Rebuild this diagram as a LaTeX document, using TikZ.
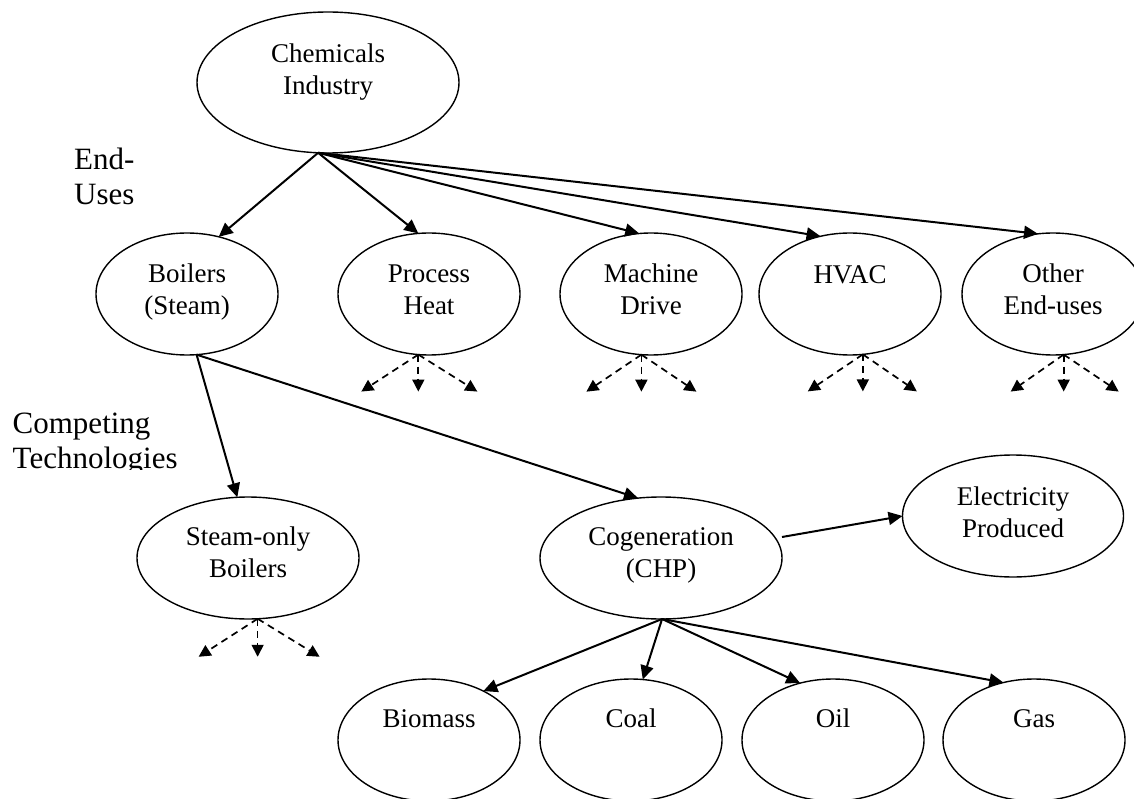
\documentclass[tikz,border=0pt]{standalone}
\usepackage{fontspec}
\setmainfont{Liberation Serif}
\usetikzlibrary{shapes.geometric,arrows.meta,calc}
\newcommand\liftup[2]{\raisebox{#1}[\height][\depth]{\begin{tabular}{@{}c@{}}#2\end{tabular}}}
\begin{document}
\begin{tikzpicture}[x=1pt,y=-1pt,
  ell/.style={draw, line width=1.4pt, ellipse, inner sep=0pt, outer sep=0pt,
    minimum width=182pt, minimum height=122pt, font=\fontsize{27}{32}\selectfont},
  conn/.style={line width=2pt, -{Triangle[length=14pt,width=13pt]}},
  alt/.style={line width=1.7pt, dash pattern=on 7pt off 5pt, -{Triangle[length=12pt,width=12pt]}},
  lab/.style={anchor=base west, inner sep=0pt, font=\fontsize{31}{35}\selectfont}]
\fill[white] (0,0) rectangle (1134,799);
\useasboundingbox (0,0) rectangle (1134,799);

% side labels
\node[lab] (lblend) at (74,170) {\begin{tabular}[t]{@{}l@{}}End-\\Uses\end{tabular}};
\begin{scope}
  \clip (0,380) rectangle (400,469);
  \node[lab] (lblcomp) at (12.5,433) {\begin{tabular}[t]{@{}l@{}}Competing\\Technologies\end{tabular}};
\end{scope}

% nodes
\node[ell, minimum width=262pt, minimum height=141pt] (chem) at (328,82.5) {\liftup{10.5pt}{Chemicals\\Industry}};
\node[ell] (boil)  at (187,294)  {\liftup{1.5pt}{Boilers\\(Steam)}};
\node[ell] (proc)  at (429,294)  {\liftup{1.5pt}{Process\\Heat}};
\node[ell] (mach)  at (651,294)  {\liftup{1.5pt}{Machine\\Drive}};
\node[ell] (hvac)  at (850,294)  {\liftup{17pt}{HVAC}};
\node[ell] (other) at (1053,294) {\liftup{1.5pt}{Other\\End-uses}};
\node[ell, minimum width=222pt] (steam) at (248,558) {\liftup{3pt}{Steam-only\\Boilers}};
\node[ell, minimum width=242pt] (chp)   at (661,558) {\liftup{3pt}{Cogeneration\\(CHP)}};
\node[ell, minimum width=221pt] (elec)  at (1013,516) {\liftup{1pt}{Electricity\\Produced}};
\node[ell] (bio)  at (429,740)  {\liftup{19pt}{Biomass}};
\node[ell] (coal) at (631,740)  {\liftup{19pt}{Coal}};
\node[ell] (oil)  at (833,740)  {\liftup{19pt}{Oil}};
\node[ell] (gas)  at (1034,740) {\liftup{19pt}{Gas}};

% solid connectors
\draw[conn] (chem.262) -- (boil.61);
\draw[conn] (chem.262) -- (proc.100);
\draw[conn] (chem.262) -- (mach.101);
\draw[conn] (chem.262) -- (hvac.117);
\draw[conn] (chem.262) -- (other.104);
\draw[conn] (boil.279) -- (steam.100);
\draw[conn] (boil.279) -- (chp.111);
\draw[conn] ($(chp.east)+(0,-21)$) -- (elec.west);
\draw[conn] (chp.271) -- (bio.42);
\draw[conn] (chp.271) -- (coal.79);
\draw[conn] (chp.271) -- (oil.120);
\draw[conn] (chp.271) -- (gas.118);

% dashed fan-outs
\foreach \n/\a/\l/\r/\d in {proc/260/57/59/37, mach/261/55/55/37, hvac/282/55/54/37, other/280/53/55/37, steam/279/59/62/38}{
  \coordinate (\n-o) at (\n.\a);
  \coordinate (\n-l) at ($(\n-o)+(-\l,\d)$);
  \coordinate (\n-m) at ($(\n-o)+(0,\d)$);
  \coordinate (\n-r) at ($(\n-o)+(\r,\d)$);
  \draw[alt] (\n-o) -- (\n-l);
  \draw[alt] (\n-o) -- (\n-m);
  \draw[alt] (\n-o) -- (\n-r);
}
\end{tikzpicture}
\end{document}
